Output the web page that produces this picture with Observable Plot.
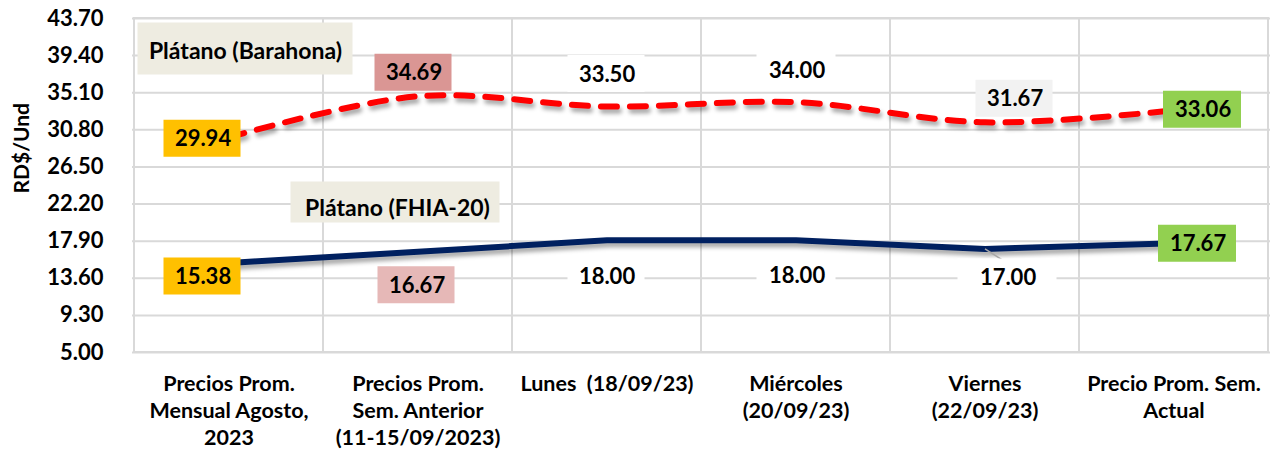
<!DOCTYPE html>
<html>
<head>
<meta charset="utf-8">
<script src="https://cdn.jsdelivr.net/npm/d3@7"></script>
<script src="https://cdn.jsdelivr.net/npm/@observablehq/plot@0.6"></script>
<style>
  html, body { margin: 0; padding: 0; background: #fff; }
  #chart svg [aria-label="line"] path { filter: drop-shadow(2px 4px 2px rgba(0,0,0,0.35)); }
</style>
</head>
<body>
<div id="chart"></div>
<script>
// ---- data ----
const categories = ["Mensual Agosto 2023", "Sem. Anterior", "Lunes", "Miércoles", "Viernes", "Sem. Actual"];
const xTickLabels = [
  "Precios Prom.\nMensual Agosto,\n2023",
  "Precios Prom.\nSem. Anterior\n(11-15/09/2023)",
  "Lunes  (18/09/23)",
  "Miércoles\n(20/09/23)",
  "Viernes\n(22/09/23)",
  "Precio Prom. Sem.\nActual"
];
const barahona = [29.94, 34.69, 33.50, 34.00, 31.67, 33.06];
const fhia = [15.38, 16.67, 18.00, 18.00, 17.00, 17.67];
const yTicks = [5.00, 9.30, 13.60, 17.90, 22.20, 26.50, 30.80, 35.10, 39.40, 43.70];
const seriesNames = ["Plátano (Barahona)", "Plátano (FHIA-20)"];
const yTitle = "RD$/Und";

// ---- label styles (offsets in px, box fills) ----
const barahonaLabelStyle = [
  {dx: -27, dy: 1, fill: "#FFC000", w: 77},
  {dx: -5, dy: -24, fill: "#DA9694", w: 77},
  {dx: -1, dy: -33, fill: "#FFFFFF", w: 77},
  {dx: 0, dy: -32, fill: "#FFFFFF", w: 79},
  {dx: 29, dy: -24, fill: "#F2F2F2", w: 77},
  {dx: 28, dy: -1, fill: "#92D050", w: 78}
];
const fhiaLabelStyle = [
  {dx: -27, dy: 13, fill: "#FFC000", w: 77},
  {dx: -2, dy: 33, fill: "#E6B8B7", w: 77},
  {dx: -1, dy: 36, fill: "#FFFFFF", w: 77},
  {dx: 0, dy: 35, fill: "#FFFFFF", w: 79},
  {dx: 22, dy: 28, fill: "#FFFFFF", w: 99},
  {dx: 23, dy: 0, fill: "#92D050", w: 78}
];

const barRows = categories.map((c, i) => ({cat: c, value: barahona[i], ...barahonaLabelStyle[i]}));
const fhiaRows = categories.map((c, i) => ({cat: c, value: fhia[i], ...fhiaLabelStyle[i]}));

const rectSymbol = (w, h) => ({draw(ctx) { ctx.rect(-w / 2, -h / 2, w, h); }});
const leaderSymbol = {draw(ctx) { ctx.moveTo(0, 0); ctx.lineTo(22, 14); }};

const font = "Lato, 'Open Sans', sans-serif";

function labelMarks(rows) {
  return rows.flatMap(r => [
    Plot.dot([r], {x: "cat", y: "value", dx: r.dx, dy: r.dy, symbol: rectSymbol(r.w, 37), fill: r.fill, stroke: "none", r: 5}),
    Plot.text([r], {x: "cat", y: "value", dx: r.dx + 1, dy: r.dy + 1, text: d => d.value.toFixed(2), fontSize: 22, fontWeight: "bold", fill: "#000"})
  ]);
}

const chart = Plot.plot({
  width: 1273,
  height: 458,
  marginLeft: 132,
  marginRight: 3,
  marginTop: 18,
  marginBottom: 106,
  x: {type: "band", domain: categories, padding: 0},
  y: {domain: [yTicks[0], yTicks[yTicks.length - 1]]},
  style: {fontFamily: font, background: "#fff", color: "#000", overflow: "visible"},
  marks: [
    Plot.ruleY(yTicks, {stroke: "#d9d9d9", strokeWidth: 2}),
    Plot.barY(categories, {x: d => d, y1: yTicks[0], y2: yTicks[yTicks.length - 1], fill: "none", stroke: "#d9d9d9", strokeWidth: 2}),
    Plot.axisY({ticks: yTicks, tickSize: 0, tickPadding: 29, tickFormat: d => d.toFixed(2), fontSize: 22, fontWeight: "bold", label: null}),
    Plot.axisX({tickSize: 0, tickPadding: 19, tickFormat: d => xTickLabels[categories.indexOf(d)], fontSize: 21.5, fontWeight: "bold", lineHeight: 1.26, label: null}),
    Plot.text([yTitle], {frameAnchor: "left", dx: -110, dy: 8, rotate: -90, fontSize: 21, fontWeight: "bold", fill: "#000"}),
    // series lines
    Plot.line(barRows, {x: "cat", y: "value", stroke: "#FF0000", strokeWidth: 6, strokeDasharray: "16,13", strokeLinecap: "round", curve: "catmull-rom"}),
    Plot.line(fhiaRows, {x: "cat", y: "value", stroke: "#002060", strokeWidth: 6, curve: "linear"}),
    // leader line for Viernes FHIA label
    Plot.dot([fhiaRows[4]], {x: "cat", y: "value", symbol: leaderSymbol, stroke: "#a6a6a6", fill: "none", strokeWidth: 1.5, r: 5}),
    // value labels
    ...labelMarks(barRows),
    ...labelMarks(fhiaRows),
    // series name labels
    Plot.dot([seriesNames[0]], {frameAnchor: "top-left", dx: 112.5, dy: 30, symbol: rectSymbol(215, 52), fill: "#EEECE1", stroke: "none", r: 5}),
    Plot.text([seriesNames[0]], {frameAnchor: "top-left", textAnchor: "middle", lineAnchor: "middle", dx: 113, dy: 33, text: d => d, fontSize: 23, fontWeight: "bold", fill: "#000"}),
    Plot.dot([seriesNames[1]], {frameAnchor: "top-left", dx: 262.5, dy: 183.5, symbol: rectSymbol(209, 41), fill: "#EEECE1", stroke: "none", r: 5}),
    Plot.text([seriesNames[1]], {frameAnchor: "top-left", textAnchor: "middle", lineAnchor: "middle", dx: 265, dy: 190, text: d => d, fontSize: 23, fontWeight: "bold", fill: "#000"})
  ]
});
document.getElementById("chart").appendChild(chart);
</script>
</body>
</html>
